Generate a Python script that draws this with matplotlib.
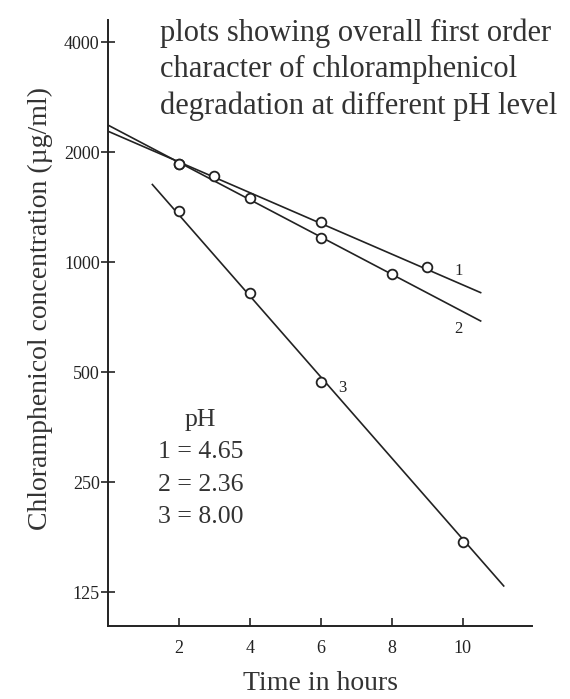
import matplotlib.pyplot as plt

# measured points (time in hours, concentration in ug/ml)
t1 = [2, 6, 9]
c1 = [1860, 1284, 968]
t2 = [2, 3, 4, 6, 8]
c2 = [1860, 1718, 1494, 1164, 925]
t3 = [2, 4, 6, 10]
c3 = [1380, 822, 470, 172]

# hand-fitted first order lines (end points)
fit1_t = [0, 10.5]
fit1_c = [2280, 825]
fit2_t = [0, 10.5]
fit2_c = [2370, 690]
fit3_t = [1.25, 11.15]
fit3_c = [1630, 130]

yticks = [125, 250, 500, 1000, 2000, 4000]
xticks = [2, 4, 6, 8, 10]

ink = "#222222"
plt.rcParams["font.family"] = ["Liberation Serif", "DejaVu Serif"]

fig = plt.figure(figsize=(5.7, 6.99), dpi=100)
ax = fig.add_axes([0.1895, 0.1044, 0.744, 0.867])

for ft, fc in [(fit1_t, fit1_c), (fit2_t, fit2_c), (fit3_t, fit3_c)]:
    ax.plot(ft, fc, color=ink, lw=1.2, zorder=2)

for t, c in [(t1, c1), (t2, c2), (t3, c3)]:
    ax.plot(t, c, ls="none", marker="o", ms=7, mfc="white", mec=ink,
            mew=1.3, zorder=3)

ax.set_yscale("log")
ax.set_ylim(101, 4595)
ax.set_xlim(0, 11.95)
ax.set_yticks(yticks)
ax.set_yticklabels([str(v) for v in yticks])
ax.yaxis.set_minor_locator(plt.NullLocator())
ax.set_xticks(xticks)
ax.set_xticklabels([str(v) for v in xticks])

for s in ["top", "right"]:
    ax.spines[s].set_visible(False)
for s in ["left", "bottom"]:
    ax.spines[s].set_color(ink)
    ax.spines[s].set_linewidth(1.4)

ax.tick_params(axis="y", direction="inout", length=10, width=1.2,
               colors=ink, labelsize=13, pad=1)
ax.tick_params(axis="x", direction="in", length=6, width=1.2,
               colors=ink, labelsize=13, pad=10)

fig.text(40 / 570, 1 - 308 / 699, "Chloramphenicol concentration (\u00b5g/ml)",
         rotation=90, fontsize=20, color="#333333", ha="center", va="center")
ax.set_xlabel("Time in hours", fontsize=20, color="#333333", labelpad=10)

# curve numbers
ax.text(9.89, 944, "1", fontsize=12, color=ink, ha="center", va="center")
ax.text(9.86, 655, "2", fontsize=12, color=ink, ha="center", va="center")
ax.text(6.6, 452, "3", fontsize=12, color=ink, ha="center", va="center")

# pH key
key = "pH\n1 = 4.65\n2 = 2.36\n3 = 8.00"
ax.text(2.6, 396, key, fontsize=18.5, color="#333333", ha="center",
        va="top", linespacing=1.6)

fig.text(0.28, 0.973, "plots showing overall first order\n"
         "character of chloramphenicol\n"
         "degradation at different pH level",
         fontsize=22, color="#333333", ha="left", va="top",
         linespacing=1.32)

fig.savefig("out.png", dpi=100, facecolor="white")
